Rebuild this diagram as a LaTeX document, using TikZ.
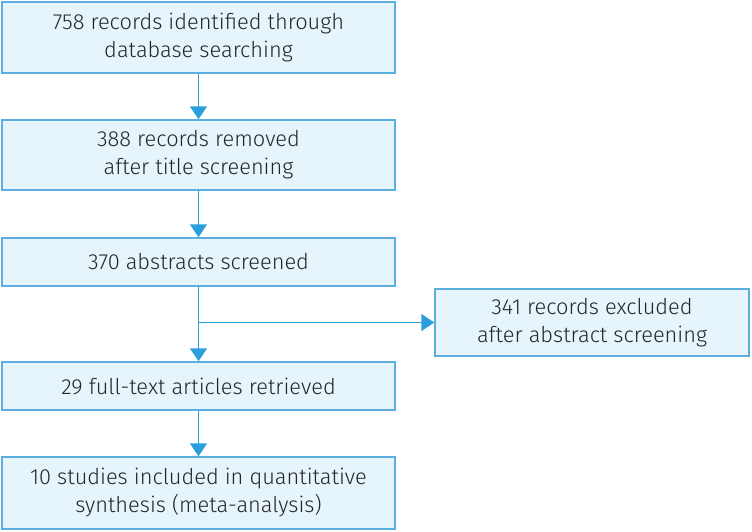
\documentclass[tikz,border=0pt]{standalone}
\usepackage{fontspec}
\setmainfont{Fira Sans Light}
\usetikzlibrary{arrows.meta}
\definecolor{boxfill}{HTML}{E6F4FC}
\definecolor{boxline}{HTML}{5AAEE0}
\definecolor{arrowc}{HTML}{2A9FDB}
\tikzset{
  flowbox/.style={draw=boxline, fill=boxfill, line width=1.5pt, align=center,
    font=\fontsize{21.8}{28}\selectfont, text=black!85, inner sep=0pt},
  flowarrow/.style={draw=arrowc, line width=1.5pt, -{Triangle[width=17pt,length=13pt]}},
  flowline/.style={draw=arrowc, line width=1.5pt}
}
\begin{document}
\begin{tikzpicture}[x=1pt,y=-1pt]
\useasboundingbox (0,0) rectangle (752,531);
\node[flowbox, minimum width=393pt, minimum height=71pt] (b1) at (198.5,37.5) {758 records identified through\\database searching};
\node[flowbox, minimum width=393pt, minimum height=70pt] (b2) at (198.5,155) {388 records removed\\after title screening};
\node[flowbox, minimum width=393pt, minimum height=48pt] (b3) at (198.5,262) {370 abstracts screened};
\node[flowbox, minimum width=393pt, minimum height=48pt] (b4) at (198.5,386) {29 full-text articles retrieved};
\node[flowbox, minimum width=393pt, minimum height=72pt] (b5) at (198.5,493) {10 studies included in quantitative\\synthesis (meta-analysis)};
\node[flowbox, minimum width=314pt, minimum height=67pt] (ex) at (592,322.5) {341 records excluded\\after abstract screening};
\coordinate (br) at (b3.south |- ex.west);
\draw[flowarrow] (b1) -- (b2);
\draw[flowarrow] (b2) -- (b3);
\draw[flowarrow] (b3) -- (b4);
\draw[flowarrow] (br) -- (ex);
\draw[flowarrow] (b4) -- (b5);
\end{tikzpicture}
\end{document}
